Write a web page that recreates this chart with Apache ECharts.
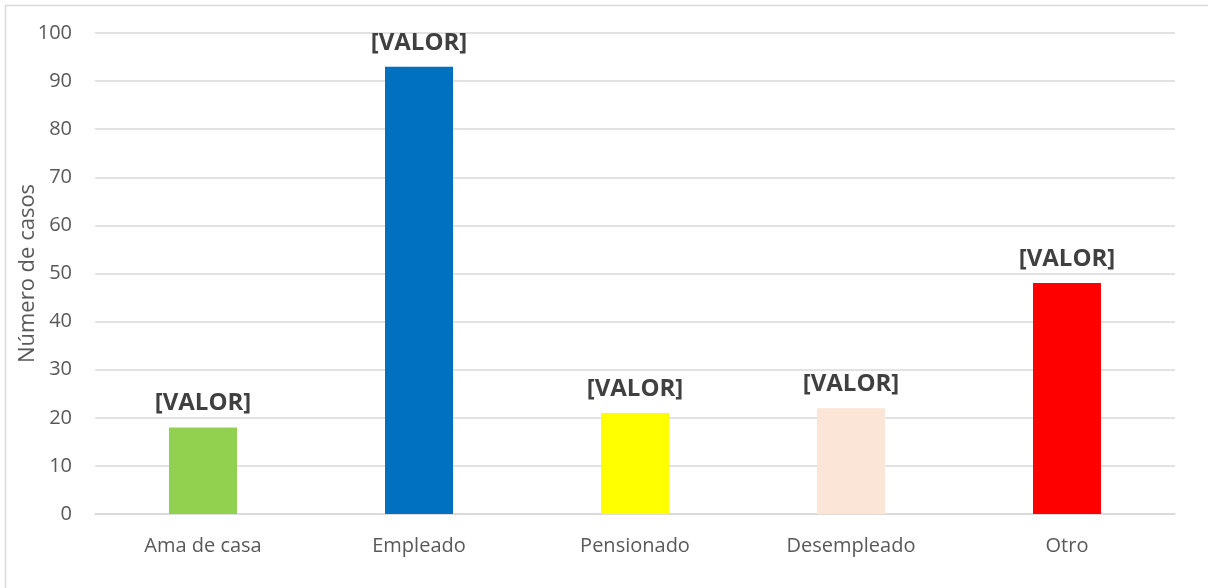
<!DOCTYPE html>
<html>
<head>
<meta charset="utf-8">
<script src="https://cdn.jsdelivr.net/npm/echarts@6/dist/echarts.min.js"></script>
<style>
  html, body { margin: 0; padding: 0; background: #fff; }
  #main-chart { width: 1208px; height: 588px; }
</style>
</head>
<body>
<div id="main-chart"></div>
<script>
const categories = ['Ama de casa', 'Empleado', 'Pensionado', 'Desempleado', 'Otro'];
const values = [18, 93, 21, 22, 48];
const barColors = ['#92D050', '#0070C0', '#FFFF00', '#FBE5D6', '#FF0000'];
const yTicks = [0, 10, 20, 30, 40, 50, 60, 70, 80, 90, 100];

const myChart = echarts.init(document.getElementById('main-chart'));

const option = {
    animation: false,
    textStyle: { fontFamily: 'Open Sans' },
    // marco gris del grafico
    graphic: [{
        type: 'rect',
        shape: { x: 5.5, y: 5.5, width: 1300, height: 700 },
        style: { fill: 'none', stroke: '#D9D9D9', lineWidth: 1.5 },
        silent: true
    }],
    grid: {
        left: 95,
        right: 33,
        top: 33,
        bottom: 74,
        outerBoundsMode: 'none'
    },
    xAxis: {
        type: 'category',
        data: categories,
        axisTick: { show: false },
        axisLine: { lineStyle: { color: '#D9D9D9', width: 1.5 } },
        axisLabel: { color: '#595959', fontSize: 20, margin: 22 }
    },
    yAxis: {
        type: 'value',
        min: yTicks[0],
        max: yTicks[yTicks.length - 1],
        interval: 10,
        name: 'Número de casos',
        nameLocation: 'middle',
        nameGap: 56,
        nameMoveOverlap: false,
        nameTextStyle: { color: '#595959', fontSize: 22 },
        axisLine: { show: false },
        axisTick: { show: false },
        axisLabel: { color: '#595959', fontSize: 20, margin: 23 },
        splitLine: { lineStyle: { color: '#D9D9D9', width: 1.5 } }
    },
    series: [{
        type: 'bar',
        barWidth: 68,
        data: values.map((v, i) => ({
            value: v,
            itemStyle: { color: barColors[i] }
        })),
        label: {
            show: true,
            position: 'top',
            distance: 12,
            formatter: '[VALOR]',
            color: '#404040',
            fontSize: 24,
            fontWeight: 'bold'
        }
    }]
};

myChart.setOption(option);
</script>
</body>
</html>
